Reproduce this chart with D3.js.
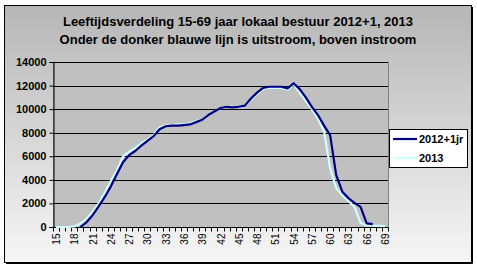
<!DOCTYPE html>
<meta charset="utf-8">
<script src="https://d3js.org/d3.v7.min.js"></script>
<style type="text/css">
body { margin: 0; background: #fff; }
text { font-family: Arial, "Liberation Sans", sans-serif; }
</style>
<body>
</body>
<script>

// data
var ages = [15,16,17,18,19,20,21,22,23,24,25,26,27,28,29,30,31,32,33,34,35,36,37,38,39,40,41,42,
  43,44,45,46,47,48,49,50,51,52,53,54,55,56,57,58,59,60,61,62,63,64,65,66,67,68,69];

var seriesNames = ["2012+1jr", "2013"];

var values2012 = [null,null,null,null,0,400,1000,1750,2550,3450,4500,5500,6100,6450,6900,7300,7700,8300,8550,
  8600,8600,8650,8700,8900,9100,9500,9800,10100,10200,10150,10200,10300,10900,11400,11800,11900,11900,11900,
  11750,12200,11700,11000,10200,9500,8600,7800,4400,3000,2450,2050,1700,300,250,null,null];

var values2013 = [0,0,0,50,300,700,1300,2000,2900,3900,4800,6000,6400,6700,7100,7400,7800,8450,8600,
  8650,8700,8700,8800,9000,9100,9500,9800,10100,10200,10200,10150,10300,10800,11300,11700,11800,11800,11800,
  11650,12100,11400,10700,10000,9200,8100,5000,3300,2700,2200,1700,350,150,120,100,80];

var yTicks = [0, 2000, 4000, 6000, 8000, 10000, 12000, 14000];

var titleLines = ["Leeftijdsverdeling 15-69 jaar lokaal bestuur 2012+1, 2013",
  "Onder de donker blauwe lijn is uitstroom, boven instroom"];

var colors = ["#000080", "#ccffff"];

var W = 477, H = 269;
var plot = {left: 53, top: 62, right: 388, bottom: 227};

var svg = d3.select("body").append("svg")
  .attr("width", W)
  .attr("height", H);

// background gradient for the chart area
var grad = svg.append("defs").append("linearGradient")
  .attr("id", "bg")
  .attr("x1", 0).attr("y1", 0).attr("x2", 0).attr("y2", 1);
grad.append("stop").attr("offset", "0%").attr("stop-color", "#b6b6b6");
grad.append("stop").attr("offset", "100%").attr("stop-color", "#f6f6f6");

svg.append("rect")
  .attr("x", 4.5).attr("y", 5.5)
  .attr("width", 467).attr("height", 257)
  .style("fill", "url(#bg)")
  .style("stroke", "#000")
  .style("stroke-width", 1);
// shadow on right and bottom
svg.append("path")
  .attr("d", "M472.5,7V263.5H6")
  .style("fill", "none")
  .style("stroke", "#000")
  .style("stroke-width", 1);

// title
svg.selectAll(".title")
  .data(titleLines)
  .enter().append("text")
  .attr("class", "title")
  .attr("x", 238)
  .attr("y", function(d, i) { return 26 + i * 18; })
  .attr("text-anchor", "middle")
  .style("font-size", "13px")
  .style("font-weight", "bold")
  .text(function(d) { return d; });

// scales
var xScale = d3.scaleBand()
  .domain(ages)
  .range([plot.left, plot.right]);

var yScale = d3.scaleLinear()
  .domain([0, 14000])
  .range([plot.bottom, plot.top]);

// plot area
svg.append("rect")
  .attr("x", plot.left + 0.5).attr("y", plot.top + 0.5)
  .attr("width", plot.right - plot.left).attr("height", plot.bottom - plot.top)
  .style("fill", "#c0c0c0")
  .style("stroke", "#808080");

// gridlines
svg.selectAll(".grid")
  .data(yTicks.slice(1))
  .enter().append("line")
  .attr("class", "grid")
  .attr("x1", plot.left).attr("x2", plot.right)
  .attr("y1", function(d) { return Math.round(yScale(d)) + 0.5; })
  .attr("y2", function(d) { return Math.round(yScale(d)) + 0.5; })
  .style("stroke", "#000");

// y axis
var yAxis = d3.axisLeft(yScale)
  .tickValues(yTicks)
  .tickFormat(d3.format("d"))
  .tickSize(4)
  .tickPadding(3);

var yAxisGroup = svg.append("g")
  .attr("transform", "translate(" + (plot.left + 0.5) + ",0)")
  .call(yAxis);
yAxisGroup.selectAll("text")
  .style("font-size", "11px")
  .style("font-weight", "bold")
  .style("fill", "#000");
yAxisGroup.selectAll("line, path").style("stroke", "#000");

// x axis: ticks on category boundaries, label every 3rd category
var xAxisGroup = svg.append("g")
  .attr("transform", "translate(0," + (plot.bottom + 0.5) + ")");

xAxisGroup.append("line")
  .attr("x1", plot.left).attr("x2", plot.right)
  .style("stroke", "#000");

xAxisGroup.selectAll(".tick")
  .data(ages.concat([70]))
  .enter().append("line")
  .attr("class", "tick")
  .attr("x1", function(d, i) { return Math.round(plot.left + i * xScale.bandwidth()) + 0.5; })
  .attr("x2", function(d, i) { return Math.round(plot.left + i * xScale.bandwidth()) + 0.5; })
  .attr("y1", 0).attr("y2", 4)
  .style("stroke", "#000");

xAxisGroup.selectAll(".xlabel")
  .data(ages.filter(function(d) { return (d - 15) % 3 === 0; }))
  .enter().append("text")
  .attr("class", "xlabel")
  .attr("transform", function(d) {
    return "translate(" + (xScale(d) + xScale.bandwidth() / 2 + 4) + ",6) rotate(-90)";
  })
  .attr("text-anchor", "end")
  .style("font-size", "10px")
  .text(function(d) { return d; });

// lines
var line = d3.line()
  .defined(function(d) { return d.v !== null; })
  .x(function(d) { return xScale(d.age) + xScale.bandwidth() / 2; })
  .y(function(d) { return yScale(d.v); });

var allSeries = [values2012, values2013];

svg.selectAll(".series")
  .data([1, 0])
  .enter().append("path")
  .attr("class", "series")
  .attr("d", function(k) {
    return line(ages.map(function(a, i) { return {age: a, v: allSeries[k][i]}; }));
  })
  .style("fill", "none")
  .style("stroke", function(k) { return colors[k]; })
  .style("stroke-width", 2.2)
  .style("stroke-linejoin", "round");

// legend
var legend = svg.append("g");
legend.append("rect")
  .attr("x", 389.5).attr("y", 129.5)
  .attr("width", 78).attr("height", 38)
  .style("fill", "#fff")
  .style("stroke", "#000");

var items = legend.selectAll(".item")
  .data(seriesNames)
  .enter().append("g")
  .attr("transform", function(d, i) { return "translate(0," + (139 + i * 19) + ")"; });

items.append("line")
  .attr("x1", 393).attr("x2", 417)
  .style("stroke", function(d, i) { return colors[i]; })
  .style("stroke-width", 2.2);

items.append("text")
  .attr("x", 419)
  .attr("y", 4)
  .style("font-size", "11px")
  .style("font-weight", "bold")
  .text(function(d) { return d; });

</script>
